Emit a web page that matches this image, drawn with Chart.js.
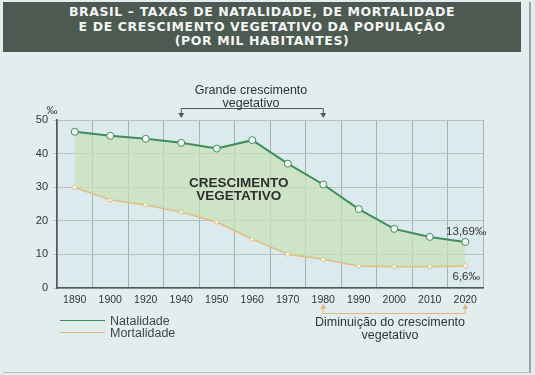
<!DOCTYPE html>
<html>
<head>
<meta charset="utf-8">
<script src="https://cdn.jsdelivr.net/npm/chart.js@4"></script>
<style>
  body { margin: 0; width: 535px; height: 375px; overflow: hidden; background: #e2eeee; font-family: "Liberation Sans", Arial, sans-serif; color: #333; }
  #wrap { position: relative; width: 535px; height: 375px; }
  #painel { position: absolute; left: 3px; top: 2px; width: 526px; height: 370px; border-right: 2px solid #9aa6a6; border-bottom: 1px solid #b5c0c0; }
  #titulo { position: absolute; left: 3px; top: 2px; width: 518px; height: 50px; background: #4c5a52; color: #f4f4f4;
    font-family: "DejaVu Sans", sans-serif; font-weight: bold; font-size: 12.5px; letter-spacing: 0.6px; line-height: 14.5px; text-align: center; padding-top: 3px; box-sizing: border-box; white-space: nowrap; }
  canvas { position: absolute; left: 0; top: 0; }
  .nota { position: absolute; font-size: 12.5px; text-align: center; line-height: 13px; color: #333; }
  .leg { position: absolute; left: 60px; font-size: 12.5px; line-height: 12px; color: #444; }
  .leg span { display: inline-block; width: 45px; height: 1.5px; vertical-align: middle; margin-right: 5px; margin-top: -2px; }
</style>
</head>
<body>
<div id="wrap">
  <div id="painel"></div>
  <canvas id="grafico" width="535" height="375"></canvas>
  <div id="titulo">BRASIL – TAXAS DE NATALIDADE, DE MORTALIDADE<br>E DE CRESCIMENTO VEGETATIVO DA POPULAÇÃO<br>(POR MIL HABITANTES)</div>
  <div class="nota" style="left:171px; top:84px; width:160px;">Grande crescimento<br>vegetativo</div>
  <div class="nota" style="left:300px; top:316px; width:180px;">Diminuição do crescimento<br>vegetativo</div>
  <div class="leg" style="top:315px;"><span style="background:#3f8c5e"></span>Natalidade</div>
  <div class="leg" style="top:327px;"><span style="background:#e6b678"></span>Mortalidade</div>
</div>
<script>
// valores (por mil habitantes)
const anos = ['1890', '1900', '1920', '1940', '1950', '1960', '1970', '1980', '1990', '2000', '2010', '2020'];
const natalidade = [46.5, 45.3, 44.4, 43.2, 41.5, 44.0, 37.0, 30.8, 23.5, 17.6, 15.2, 13.69];
const mortalidade = [30.0, 26.3, 24.8, 22.7, 19.7, 14.6, 10.1, 8.6, 6.6, 6.4, 6.4, 6.6];
const yTicks = [0, 10, 20, 30, 40, 50];

const verde = '#3f8c5e';
const laranja = '#e6b678';

// fundo da área do gráfico + textos e setas
const extras = {
  id: 'extras',
  beforeDraw(chart) {
    const { ctx, chartArea: a } = chart;
    ctx.save();
    ctx.fillStyle = '#dbeaec';
    ctx.fillRect(a.left, a.top, a.right - a.left, a.bottom - a.top);
    ctx.restore();
  },
  afterDatasetsDraw(chart) {
    const { ctx, scales: { x, y } } = chart;
    ctx.save();
    // unidade do eixo y
    ctx.fillStyle = '#333';
    ctx.font = '11px "Liberation Sans", Arial';
    ctx.textAlign = 'center';
    ctx.fillText('‰', 52, 114);

    // texto central
    ctx.font = 'bold 13.5px "Liberation Sans", Arial';
    ctx.fillStyle = '#2e2e2e';
    const passo = x.getPixelForValue(5) - x.getPixelForValue(4);
    const cx = x.getPixelForValue(4) + 0.62 * passo;
    ctx.fillText('CRESCIMENTO', cx, y.getPixelForValue(31) + 3);
    ctx.fillText('VEGETATIVO', cx, y.getPixelForValue(27) + 3);

    // rótulos finais
    ctx.font = '11.5px "Liberation Sans", Arial';
    ctx.fillStyle = '#333';
    const last = anos.length - 1;
    const xl = x.getPixelForValue(last);
    ctx.fillText(natalidade[last].toFixed(2).replace('.', ',') + '‰', xl + 1, y.getPixelForValue(natalidade[last]) - 7);
    ctx.fillText(mortalidade[last].toFixed(1).replace('.', ',') + '‰', xl + 1, y.getPixelForValue(mortalidade[last]) + 14);

    // chave superior (1940–1980)
    const x1 = x.getPixelForValue(3), x2 = x.getPixelForValue(7);
    ctx.strokeStyle = '#555';
    ctx.fillStyle = '#555';
    ctx.lineWidth = 1;
    ctx.beginPath();
    ctx.moveTo(x1, 114); ctx.lineTo(x1, 108.5); ctx.lineTo(x2, 108.5); ctx.lineTo(x2, 114);
    ctx.stroke();
    [x1, x2].forEach(px => {
      ctx.beginPath();
      ctx.moveTo(px - 3, 113); ctx.lineTo(px + 3, 113); ctx.lineTo(px, 118);
      ctx.fill();
    });

    // chave inferior (1980–2020)
    const x3 = x.getPixelForValue(7), x4 = x.getPixelForValue(last);
    ctx.strokeStyle = laranja;
    ctx.fillStyle = laranja;
    ctx.beginPath();
    ctx.moveTo(x3, 308); ctx.lineTo(x3, 313.5); ctx.lineTo(x4, 313.5); ctx.lineTo(x4, 308);
    ctx.stroke();
    [x3, x4].forEach(px => {
      ctx.beginPath();
      ctx.moveTo(px - 3, 309); ctx.lineTo(px + 3, 309); ctx.lineTo(px, 304);
      ctx.fill();
    });
    ctx.restore();
  }
};

new Chart(document.getElementById('grafico'), {
  type: 'line',
  data: {
    labels: anos,
    datasets: [{
      label: 'Natalidade',
      data: natalidade,
      borderColor: verde,
      borderWidth: 2,
      pointRadius: 3.5,
      pointBackgroundColor: '#f4f8f4',
      pointBorderColor: verde,
      pointBorderWidth: 1,
      fill: '+1',
      backgroundColor: 'rgba(200, 225, 184, 0.7)',
      tension: 0
    }, {
      label: 'Mortalidade',
      data: mortalidade,
      borderColor: laranja,
      borderWidth: 2,
      pointRadius: 2.2,
      pointBackgroundColor: '#fff',
      pointBorderColor: laranja,
      pointBorderWidth: 1,
      fill: false,
      tension: 0
    }]
  },
  options: {
    responsive: false,
    animation: false,
    layout: { padding: { left: 32, right: 52, top: 120, bottom: 67 } },
    plugins: {
      legend: { display: false },
      tooltip: { enabled: false }
    },
    scales: {
      x: {
        offset: true,
        grid: { offset: true, color: '#a7b2b2', lineWidth: 1, drawTicks: false },
        border: { color: '#555', width: 1.5 },
        ticks: { color: '#333', font: { size: 10.5, family: '"Liberation Sans", Arial' }, padding: 6, maxRotation: 0, autoSkip: false },
        afterFit(s) { s.height = 20; }
      },
      y: {
        min: 0,
        max: 50,
        afterBuildTicks(s) { s.ticks = yTicks.map(v => ({ value: v })); },
        grid: { color: '#b7c2c2', lineWidth: 1, tickLength: 4 },
        border: { color: '#555', width: 1.5 },
        ticks: { color: '#333', font: { size: 11, family: '"Liberation Sans", Arial' }, padding: 5 },
        afterFit(s) { s.width = 25; }
      }
    }
  },
  plugins: [extras]
});
</script>
</body>
</html>
